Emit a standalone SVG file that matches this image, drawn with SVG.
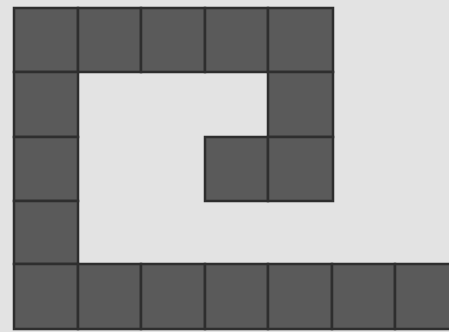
<svg xmlns="http://www.w3.org/2000/svg" width="449" height="332" viewBox="0 0 449 332">
<style>
.c{fill:#5a5a5a;stroke:#2e2e2e;stroke-width:2.5}
</style>
<rect width="449" height="332" fill="#e3e3e3"/>
<g id="top">
<rect class="c" x="14" y="8" width="64" height="64"/>
<rect class="c" x="78" y="8" width="63" height="64"/>
<rect class="c" x="141" y="8" width="64" height="64"/>
<rect class="c" x="205" y="8" width="63" height="64"/>
<rect class="c" x="268" y="8" width="65" height="64"/>
</g>
<g id="left">
<rect class="c" x="14" y="72" width="64" height="65"/>
<rect class="c" x="14" y="137" width="64" height="64"/>
<rect class="c" x="14" y="201" width="64" height="63"/>
</g>
<g id="hook">
<rect class="c" x="268" y="72" width="65" height="65"/>
<rect class="c" x="205" y="137" width="63" height="64"/>
<rect class="c" x="268" y="137" width="65" height="64"/>
</g>
<g id="bottom">
<rect class="c" x="14" y="264" width="64" height="65"/>
<rect class="c" x="78" y="264" width="63" height="65"/>
<rect class="c" x="141" y="264" width="64" height="65"/>
<rect class="c" x="205" y="264" width="63" height="65"/>
<rect class="c" x="268" y="264" width="64" height="65"/>
<rect class="c" x="332" y="264" width="63" height="65"/>
<rect class="c" x="395" y="264" width="56" height="65"/>
</g>
</svg>
